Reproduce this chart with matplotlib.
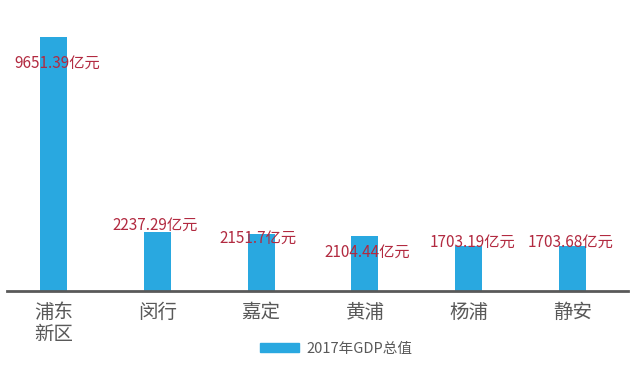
import matplotlib
matplotlib.use('Agg')
from matplotlib import pyplot as plt

plt.rcParams['font.family'] = ['Noto Sans CJK SC', 'DejaVu Sans']

# Data
districts = ['浦东\n新区', '闵行', '嘉定', '黄浦', '杨浦', '静安']
gdp = [9651.39, 2237.29, 2151.7, 2104.44, 1703.19, 1703.68]
value_labels = ['9651.39亿元', '2237.29亿元', '2151.7亿元', '2104.44亿元',
                '1703.19亿元', '1703.68亿元']
series_name = '2017年GDP总值'

# Label offsets from bar top (pixels), as placed in the original
label_dx = [4, -2, -3, 2, 4, -2]
label_dy = [-26, 7, -4, -17, 4, 4]

bar_color = '#29a8e0'
label_color = '#b22a40'
text_gray = '#595959'

W, H = 640, 377
fig = plt.figure(figsize=(W / 100, H / 100), dpi=100)
# axes span from px 7 to 628 horizontally, baseline at px 291
ax = fig.add_axes([7 / W, (H - 291) / H, 621 / W, 263 / H])

x = list(range(len(districts)))
ax.bar(x, gdp, width=0.26, color=bar_color, zorder=2)

spacing = 103.8
ax.set_xlim(-(53.5 - 7) / spacing, 5 + (628 - 572.5) / spacing)
ax.set_ylim(0, 263 / 0.02632)

for xi, v, lab, dx, dy in zip(x, gdp, value_labels, label_dx, label_dy):
    ax.annotate(lab, (xi, v), xytext=(dx, dy), textcoords='offset pixels',
                ha='center', va='center', fontsize=11, color=label_color,
                zorder=3)

ax.set_xticks(x)
ax.set_xticklabels(districts, fontsize=14, color=text_gray, linespacing=1.05,
                   va='top')
ax.tick_params(axis='x', length=0, pad=8)
ax.set_yticks([])
for side in ('top', 'left', 'right'):
    ax.spines[side].set_visible(False)
ax.spines['bottom'].set_color('#595959')
ax.spines['bottom'].set_linewidth(2)

handle = plt.Rectangle((0, 0), 1, 1, color=bar_color)
fig.legend([handle], [series_name], loc='center',
           bbox_to_anchor=(336 / W, 1 - 349 / H), frameon=False,
           fontsize=10.5, labelcolor=text_gray, handlelength=2.7,
           handleheight=0.55, handletextpad=0.5)

fig.savefig('out.png', dpi=100)
